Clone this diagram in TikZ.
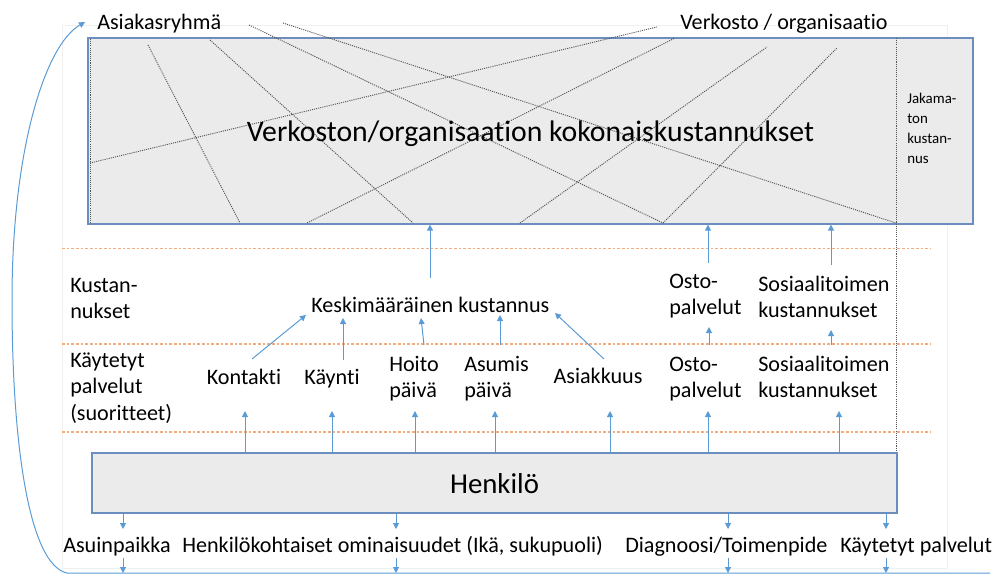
\documentclass[tikz,border=0pt]{standalone}
\usepackage{fontspec}
\setmainfont{Carlito}[Ligatures=NoCommon]
\usetikzlibrary{arrows.meta,fit,calc}
\definecolor{boxfill}{HTML}{EBEBEB}
\definecolor{boxline}{HTML}{6C8EBF}
\definecolor{arrowblue}{HTML}{5B9BD5}
\definecolor{rowline}{HTML}{F5AC7E}
\definecolor{dotgray}{HTML}{555555}
\definecolor{framegray}{HTML}{F0F0F0}
\begin{document}
\begin{tikzpicture}[x=0.75pt,y=-0.75pt,
  lbl/.style={inner sep=0pt, font=\fontsize{16.6}{19}\selectfont, align=left},
  big/.style={inner sep=0pt, font=\fontsize{21.6}{26}\selectfont},
  small/.style={inner sep=0pt, font=\fontsize{11.2}{15}\selectfont, align=left},
  box/.style={draw=boxline, fill=boxfill, line width=0.9pt, inner sep=0pt},
  arr/.style={draw=arrowblue, line width=0.75pt, -{Triangle[length=4.5pt,width=4.5pt]}},
  rowsep/.style={draw=rowline, line width=0.8pt, dash pattern=on 2pt off 1.5pt},
  grid/.style={draw=dotgray, line width=0.7pt, dash pattern=on 0.8pt off 0.8pt},
]
\useasboundingbox (0,0) rectangle (994,574);

% faint slide frame
\draw[framegray, line width=0.6pt] (62,25) rectangle (947,568);

% network cost box
\node[box, fit={(88,38) (973,224)}] (net) {};
% dotted allocation lines across the cost box
\draw[grid] (90,39) -- (90,223);
\draw[grid] (249,25) -- (663,223);
\draw[grid] (283,23) -- (896,223);
\draw[grid] (210,40) -- (413,223);
\draw[grid] (148,45) -- (240,223);
\draw[grid] (90,163) -- (657,27);
\draw[grid] (307,223) -- (675,38);
\draw[grid] (520,223) -- (767,47);
\draw[grid] (663,223) -- (837,48);
\draw[grid] (896,38) -- (896,453);

\node[big, anchor=base, font=\fontsize{22.3}{26}\selectfont] (title) at (530.5,142) {Verkoston/organisaation kokonaiskustannukset};
% multi-line nodes are anchored at the baseline of their last line
\node[small, anchor=base west] (jak) at (907,163) {Jakama-\\ton\\kustan-\\nus};

\node[lbl, anchor=base west] (asgrp) at (97,30) {Asiakasryhmä};
\node[lbl, anchor=base west] (verk) at (680,30) {Verkosto / organisaatio};

% row separators
\draw[rowsep] (62,248.6) -- (931,248.6);
\draw[rowsep] (62,344) -- (931,344);
\draw[rowsep] (62,432) -- (931,432);

% cost row
\node[lbl, anchor=base west] (kust) at (70,318) {Kustan-\\nukset};
\node[lbl, anchor=base west] (kesk) at (311,312) {Keskimääräinen kustannus};
\node[lbl, anchor=base west] (osto1) at (669,314) {Osto-\\palvelut};
\node[lbl, anchor=base west] (sosi1) at (758,317) {Sosiaalitoimen\\kustannukset};

% services row
\node[lbl, anchor=base west, font=\fontsize{16.6}{19.6}\selectfont] (kaytl) at (70,420) {Käytetyt\\palvelut\\(suoritteet)};
\node[lbl, anchor=base] (kontakti) at (244,384) {Kontakti};
\node[lbl, anchor=base] (kaynti) at (332,384) {Käynti};
\node[lbl, anchor=base west] (hoito) at (389,397) {Hoito\\päivä};
\node[lbl, anchor=base west] (asumis) at (464,397) {Asumis\\päivä};
\node[lbl, anchor=base] (asiak) at (598,383) {Asiakkuus};
\node[lbl, anchor=base west] (osto2) at (669,397) {Osto-\\palvelut};
\node[lbl, anchor=base west] (sosi2) at (758,397) {Sosiaalitoimen\\kustannukset};

% person box
\node[box, fit={(92,453) (897,513)}] (henk) {};
\node[big, anchor=base] (henkt) at (494.5,493) {Henkilö};

% person attributes
\node[lbl, anchor=base west] (asuin) at (63,552) {Asuinpaikka};
\node[lbl, anchor=base west] (omin) at (182,552) {Henkilökohtaiset ominaisuudet (Ikä, sukupuoli)};
\node[lbl, anchor=base west] (diag) at (625,552) {Diagnoosi/Toimenpide};
\node[lbl, anchor=base west] (kayt) at (840,552) {Käytetyt palvelut};

% arrows into the cost box
\coordinate (k1) at (430,278);
\coordinate (k2) at (708,263);
\coordinate (k3) at (831,265);
\foreach \c in {k1,k2,k3} \draw[arr] (\c) -- (\c |- net.south);

% services to costs
\coordinate (s1) at (252,359); \coordinate (e1) at (306,315);
\coordinate (s2) at (343,360); \coordinate (e2) at (343,318);
\coordinate (s3) at (424,345); \coordinate (e3) at (421,318);
\coordinate (s4) at (500,345); \coordinate (e4) at (500,315);
\coordinate (s5) at (604,359); \coordinate (e5) at (555,313);
\coordinate (s6) at (709,345); \coordinate (e6) at (709,327);
\coordinate (s7) at (831,345); \coordinate (e7) at (831,330);
\foreach \i in {1,...,7} \draw[arr] (s\i) -- (e\i);

% person to services
\foreach \x [count=\i] in {245,332,415,495,610,708,839} {
  \coordinate (u\i) at (\x,411);
  \draw[arr] (henk.north -| u\i) -- (u\i);
}

% person to attributes, attributes to the customer-group line
\foreach \x [count=\i] in {123,396,728,886} {
  \coordinate (d\i) at (\x,529);
  \coordinate (b\i) at (\x,558);
  \coordinate (f\i) at (\x,573);
  \draw[arr] (henk.south -| d\i) -- (d\i);
  \draw[arr] (b\i) -- (f\i);
}

% feedback line back to the customer group
\coordinate (fbend) at (990,573);
\draw[arr] (fbend) -- (67,573)
  .. controls (30,565) and (12,450) .. (12,300)
  .. controls (12,150) and (45,45) .. ($(asgrp.west)+(-12,-2)$);
\end{tikzpicture}
\end{document}
